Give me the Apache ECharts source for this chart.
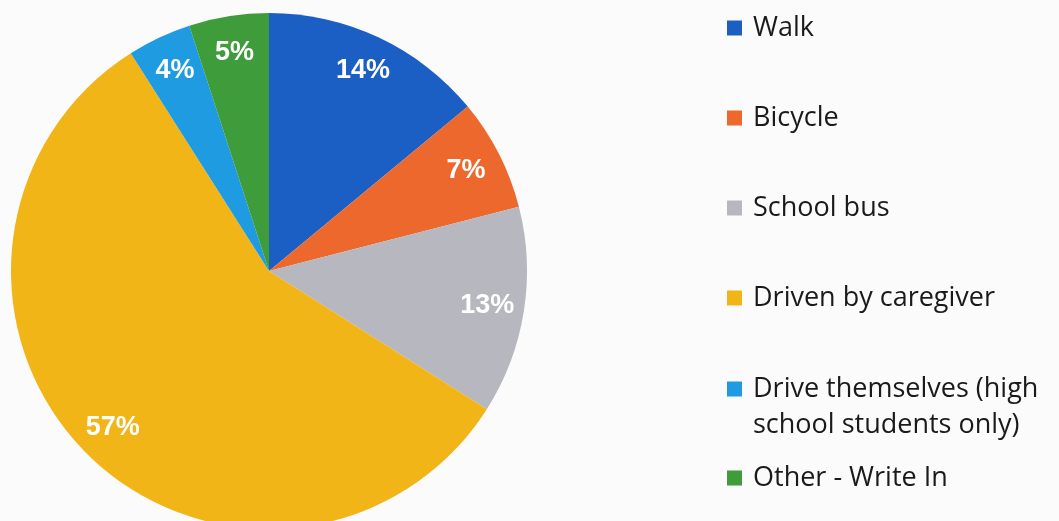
<!DOCTYPE html>
<html>
<head>
<meta charset="utf-8">
<script src="https://cdn.jsdelivr.net/npm/echarts@6/dist/echarts.min.js"></script>
<style>
html,body{margin:0;padding:0;background:#fbfbfb;}
#c{width:1059px;height:521px;}
</style>
</head>
<body>
<div id="c"></div>
<script>
const categories = ['Walk', 'Bicycle', 'School bus', 'Driven by caregiver', 'Drive themselves (high school students only)', 'Other - Write In'];
const values = [14, 7, 13, 57, 4, 5];
const colors = ['#1b5ec4', '#ec682d', '#b7b7bf', '#f2b518', '#1f9be1', '#3e9c3b'];
const legendTops = [10, 100, 190, 280, 335, 460];

const chart = echarts.init(document.getElementById('c'));
const data = categories.map((n, i) => ({ name: n, value: values[i], itemStyle: { color: colors[i] } }));
const labelData = categories.map((n, i) => ({ name: n, value: values[i] }));

const legends = categories.map((n, i) => {
  const multi = n.indexOf('(high') >= 0;
  return {
    orient: 'vertical',
    left: 727,
    top: legendTops[i],
    padding: 0,
    data: [n],
    icon: 'rect',
    itemWidth: 15,
    itemHeight: 15,
    selectedMode: false,
    formatter: multi ? (name => '\n' + name.replace('(high ', '(high\n')) : undefined,
    textStyle: {
      fontFamily: 'Open Sans',
      fontSize: 27,
      color: '#1a1a1a',
      lineHeight: 36,
      padding: [0, 0, 0, 6]
    }
  };
});

chart.setOption({
  backgroundColor: '#fbfbfb',
  animation: false,
  legend: legends,
  series: [
    {
      type: 'pie',
      center: [269, 271],
      radius: [0, 258],
      startAngle: 90,
      clockwise: true,
      label: { show: false },
      labelLine: { show: false },
      itemStyle: { borderWidth: 0 },
      emphasis: { disabled: true },
      data: data
    },
    {
      type: 'pie',
      center: [269, 271],
      radius: [178, 258],
      startAngle: 90,
      clockwise: true,
      silent: true,
      legendHoverLink: false,
      itemStyle: { color: 'rgba(0,0,0,0)', borderWidth: 0 },
      emphasis: { disabled: true },
      label: {
        show: true,
        position: 'inside',
        formatter: p => p.value + '%',
        color: '#ffffff',
        fontFamily: 'Liberation Sans',
        fontWeight: 'bold',
        fontSize: 27
      },
      labelLine: { show: false },
      data: labelData
    }
  ]
});
</script>
</body>
</html>
